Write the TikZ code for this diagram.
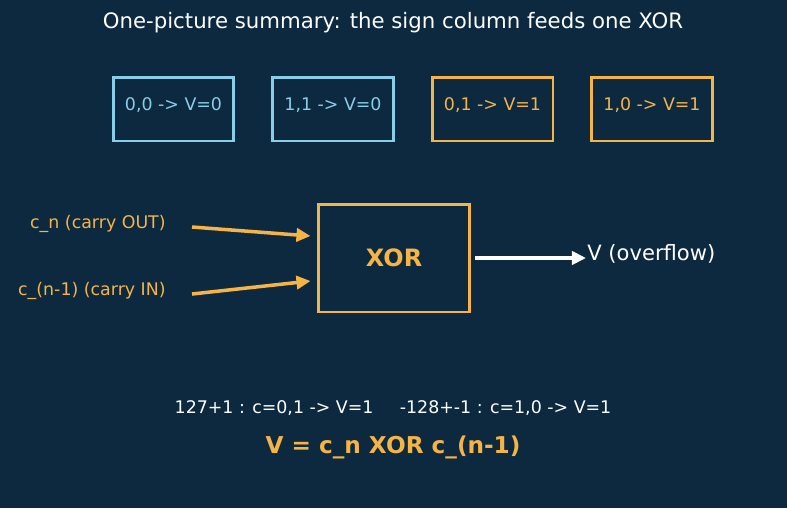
\documentclass[tikz,border=0pt]{standalone}
\usepackage{fontspec}
\setmainfont{DejaVu Sans}
\usetikzlibrary{arrows.meta,calc}
\definecolor{navy}{HTML}{0C2940}
\definecolor{skyb}{HTML}{87CEEB}
\definecolor{amber}{HTML}{F5B445}

\begin{document}
\begin{tikzpicture}[x=0.02cm,y=-0.02cm,>={Triangle[length=8pt,width=7.5pt]},
  small/.style={font=\fontsize{9.9}{12}\selectfont},
  rule/.style={draw,small,line width=1.7pt,minimum width=2.42cm,minimum height=1.28cm,inner sep=0pt,text height=6pt,text depth=4.4pt},
  lbl/.style={small,amber,inner sep=0pt,anchor=east},
  feed/.style={amber,line width=2pt,->}]
\fill[navy] (0,0) rectangle (787,508);
\node[white,font=\fontsize{12.1}{14}\selectfont] (title) at (393,23) {One-picture summary: the sign column feeds one XOR};
% truth table of the sign column
\node[rule,skyb] (r00) at (173.5,109) {0,0 -> V=0};
\node[rule,skyb] (r11) at (333,109) {1,1 -> V=0};
\node[rule,amber] (r01) at (492.5,109) {0,1 -> V=1};
\node[rule,amber] (r10) at (652,109) {1,0 -> V=1};
% the gate
\node[draw,amber,line width=1.7pt,minimum width=3.04cm,minimum height=2.16cm,font=\bfseries\fontsize{13.6}{16}\selectfont] (xor) at (394,258) {XOR};
\node[lbl] (cn) at (166,224) {c\_n (carry OUT)};
\node[lbl] (cin) at (166,291) {c\_(n-1) (carry IN)};
\draw[feed] ($(cn.east)+(26,3)$) -- ($(xor.west)+(-6,-22)$);
\draw[feed] ($(cin.east)+(26,3)$) -- ($(xor.west)+(-6,23)$);
\node[white,inner sep=0pt,anchor=west,font=\fontsize{12}{14}\selectfont] (v) at (587,254) {V (overflow)};
\draw[white,line width=2pt,->] ($(xor.east)+(4,0)$) -- ($(v.west)+(-1,4)$);
% examples and rule
\node[white,small] (ex) at (393,408) {127+1 : c=0,1 -> V=1\hspace{15pt}-128+-1 : c=1,0 -> V=1};
\node[amber,font=\bfseries\fontsize{13.2}{16}\selectfont] (eq) at (393,447) {V = c\_n XOR c\_(n-1)};
\end{tikzpicture}
\end{document}
